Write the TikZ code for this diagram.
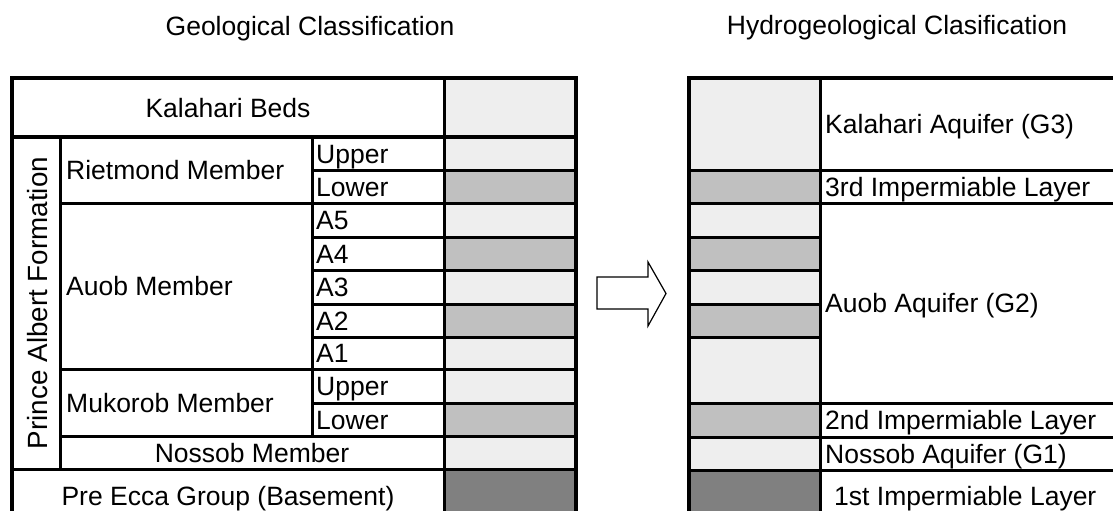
\documentclass[tikz,border=0pt]{standalone}
\usepackage{fontspec}
\setmainfont{Liberation Sans}
\definecolor{lgray}{HTML}{EEEEEE}
\definecolor{mgray}{HTML}{C0C0C0}
\definecolor{dgray}{HTML}{808080}
\begin{document}
\begin{tikzpicture}[x=1pt,y=-1pt,
  txt/.style={font=\fontsize{26.5pt}{30pt}\selectfont, text height=19pt, text depth=0pt, inner sep=0pt},
  cell/.style={rectangle, draw=black, line width=3pt, inner sep=0pt, outer sep=0pt, fill=white, txt},
  lg/.style={cell, fill=lgray},
  mg/.style={cell, fill=mgray},
  dg/.style={cell, fill=dgray},
  frame/.style={draw=black, line width=4.5pt},
  bigarrow/.style={draw=black, line width=1.2pt, fill=white}]
\useasboundingbox (0,0) rectangle (1113,511);
\begin{scope}
\clip (0,0) rectangle (1113,511);
% titles
\node[txt, anchor=base] (t1) at (310,36) {Geological Classification};
\node[txt, anchor=base] (t2) at (897,35) {Hydrogeological Clasification};

% ---------- left table: text cells ----------
\node[cell, minimum width=432pt, minimum height=59pt] (kb) at (228,107.5) {Kalahari Beds};
\node[cell, minimum width=48pt, minimum height=332pt] (pa) at (36,303) {};
\node[txt, font=\fontsize{27.8pt}{31pt}\selectfont, text height=20pt, rotate=90] (pat) at ([xshift=1pt]pa.center) {Prince Albert Formation};
\node[cell, minimum width=252pt, minimum height=66pt] (rm) at (186,170) {};
\node[cell, minimum width=252pt, minimum height=166pt] (am) at (186,286) {};
\node[cell, minimum width=252pt, minimum height=67pt] (mm) at (186,402.5) {};
\node[cell, minimum width=132pt, minimum height=33pt] (ru) at (378,153.5) {};
\node[cell, minimum width=132pt, minimum height=33pt] (rl) at (378,186.5) {};
\node[cell, minimum width=132pt, minimum height=34pt] (a5) at (378,220) {};
\node[cell, minimum width=132pt, minimum height=33pt] (a4) at (378,253.5) {};
\node[cell, minimum width=132pt, minimum height=34pt] (a3) at (378,287) {};
\node[cell, minimum width=132pt, minimum height=33pt] (a2) at (378,320.5) {};
\node[cell, minimum width=132pt, minimum height=32pt] (a1) at (378,353) {};
\node[cell, minimum width=132pt, minimum height=34pt] (mu) at (378,386) {};
\node[cell, minimum width=132pt, minimum height=33pt] (ml) at (378,419.5) {};
\node[cell, minimum width=384pt, minimum height=33pt] (nm) at (252,452.5) {Nossob Member};
\node[cell, minimum width=432pt, minimum height=53pt] (pe) at (228,495.5) {Pre Ecca Group (Basement)};

\node[txt, anchor=west] (rmt) at ([xshift=6pt]rm.west) {Rietmond Member};
\node[txt, anchor=west] (amt) at ([xshift=6pt]am.west) {Auob Member};
\node[txt, anchor=west] (mmt) at ([xshift=6pt]mm.west) {Mukorob Member};
\node[txt, anchor=west] (rut) at ([xshift=4pt]ru.west) {Upper};
\node[txt, anchor=west] (rlt) at ([xshift=4pt]rl.west) {Lower};
\node[txt, anchor=west] (a5t) at ([xshift=4pt]a5.west) {A5};
\node[txt, anchor=west] (a4t) at ([xshift=4pt]a4.west) {A4};
\node[txt, anchor=west] (a3t) at ([xshift=4pt]a3.west) {A3};
\node[txt, anchor=west] (a2t) at ([xshift=4pt]a2.west) {A2};
\node[txt, anchor=west] (a1t) at ([xshift=4pt]a1.west) {A1};
\node[txt, anchor=west] (mut) at ([xshift=4pt]mu.west) {Upper};
\node[txt, anchor=west] (mlt) at ([xshift=4pt]ml.west) {Lower};

% ---------- left table: colour column ----------
\node[lg, minimum width=132pt, minimum height=59pt] (g1) at (510,107.5) {};
\node[lg, minimum width=132pt, minimum height=33pt] (g2) at (510,153.5) {};
\node[mg, minimum width=132pt, minimum height=33pt] (g3) at (510,186.5) {};
\node[lg, minimum width=132pt, minimum height=34pt] (g4) at (510,220) {};
\node[mg, minimum width=132pt, minimum height=33pt] (g5) at (510,253.5) {};
\node[lg, minimum width=132pt, minimum height=34pt] (g6) at (510,287) {};
\node[mg, minimum width=132pt, minimum height=33pt] (g7) at (510,320.5) {};
\node[lg, minimum width=132pt, minimum height=32pt] (g8) at (510,353) {};
\node[lg, minimum width=132pt, minimum height=34pt] (g9) at (510,386) {};
\node[mg, minimum width=132pt, minimum height=33pt] (g10) at (510,419.5) {};
\node[lg, minimum width=132pt, minimum height=33pt] (g11) at (510,452.5) {};
\node[dg, minimum width=132pt, minimum height=53pt] (g12) at (510,495.5) {};

\draw[frame] (12,78) rectangle (576,522);
\draw[frame] (kb.south west) -- (g1.south east);

% ---------- arrow ----------
\draw[bigarrow] (597,277) -- (648,277) -- (648,262) -- (666,293.5) -- (648,326) -- (648,309) -- (597,309) -- cycle;

% ---------- right table: colour column ----------
\node[lg, minimum width=131pt, minimum height=92pt] (h1) at (754.5,124) {};
\node[mg, minimum width=131pt, minimum height=33pt] (h2) at (754.5,186.5) {};
\node[lg, minimum width=131pt, minimum height=34pt] (h3) at (754.5,220) {};
\node[mg, minimum width=131pt, minimum height=33pt] (h4) at (754.5,253.5) {};
\node[lg, minimum width=131pt, minimum height=34pt] (h5) at (754.5,287) {};
\node[mg, minimum width=131pt, minimum height=33pt] (h6) at (754.5,320.5) {};
\node[lg, minimum width=131pt, minimum height=66pt] (h7) at (754.5,370) {};
\node[mg, minimum width=131pt, minimum height=34pt] (h8) at (754.5,420) {};
\node[lg, minimum width=131pt, minimum height=33pt] (h9) at (754.5,453.5) {};
\node[dg, minimum width=131pt, minimum height=52pt] (h10) at (754.5,496) {};

% ---------- right table: text column ----------
\node[cell, minimum width=305pt, minimum height=92pt] (k3) at (972.5,124) {};
\node[cell, minimum width=305pt, minimum height=33pt] (i3) at (972.5,186.5) {};
\node[cell, minimum width=305pt, minimum height=200pt] (g2a) at (972.5,303) {};
\node[cell, minimum width=305pt, minimum height=34pt] (i2) at (972.5,420) {};
\node[cell, minimum width=305pt, minimum height=33pt] (n1) at (972.5,453.5) {};
\node[cell, minimum width=305pt, minimum height=52pt] (i1) at (972.5,496) {};

\node[txt, anchor=west] (k3t) at ([xshift=5pt]k3.west) {Kalahari Aquifer (G3)};
\node[txt, anchor=west] (i3t) at ([xshift=5pt]i3.west) {3rd Impermiable Layer};
\node[txt, anchor=west] (g2t) at ([xshift=5pt]g2a.west) {Auob Aquifer (G2)};
\node[txt, anchor=west] (i2t) at ([xshift=5pt]i2.west) {2nd Impermiable Layer};
\node[txt, anchor=west] (n1t) at ([xshift=5pt]n1.west) {Nossob Aquifer (G1)};
\node[txt, anchor=west] (i1t) at ([xshift=14pt]i1.west) {1st Impermiable Layer};

\draw[frame] (689,78) rectangle (1125,522);
\end{scope}
\end{tikzpicture}
\end{document}
